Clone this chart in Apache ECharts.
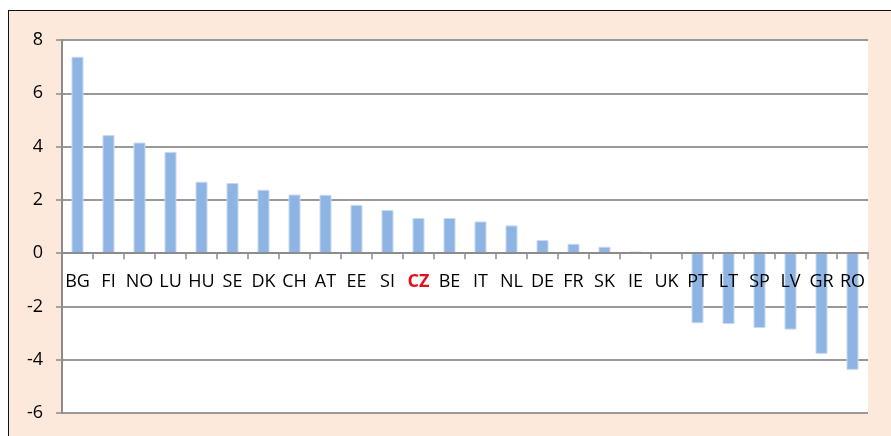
<!DOCTYPE html>
<html>
<head>
<meta charset="utf-8">
<script src="https://cdn.jsdelivr.net/npm/echarts@6/dist/echarts.min.js"></script>
<style>
  html, body { margin: 0; padding: 0; background: #fff; }
  .frame {
    position: absolute;
    left: 8px;
    top: 10px;
    width: 900px;
    height: 440px;
    background: #fce9db;
    border-left: 1px solid #111;
    border-top: 1px solid #111;
  }
  #bar { position: absolute; left: 0; top: 0; width: 891px; height: 436px; }
</style>
</head>
<body>
<div class="frame"></div>
<div id="bar"></div>
<script>
const categories = ['BG', 'FI', 'NO', 'LU', 'HU', 'SE', 'DK', 'CH', 'AT', 'EE', 'SI', 'CZ', 'BE',
  'IT', 'NL', 'DE', 'FR', 'SK', 'IE', 'UK', 'PT', 'LT', 'SP', 'LV', 'GR', 'RO'];
const values = [7.37, 4.43, 4.15, 3.8, 2.68, 2.63, 2.38, 2.2, 2.19, 1.81, 1.62, 1.32, 1.32,
  1.19, 1.04, 0.49, 0.35, 0.24, 0.06, 0.02, -2.63, -2.66, -2.81, -2.87, -3.78, -4.38];
const yTicks = [-6, -4, -2, 0, 2, 4, 6, 8];
const highlight = 'CZ';

const chart = echarts.init(document.getElementById('bar'));
const font = '"Open Sans", sans-serif';

const gridTop = 40;
const gridBottom = 23;
const gridHeight = 436 - gridTop - gridBottom;
const yMin = yTicks[0];
const yMax = yTicks[yTicks.length - 1];
// move the category axis up onto the zero line, labels included
const zeroOffset = -gridHeight * (0 - yMin) / (yMax - yMin);

const option = {
  animation: false,
  grid: {
    left: 62,
    right: 23,
    top: gridTop,
    bottom: gridBottom,
    show: true,
    backgroundColor: '#fff',
    borderWidth: 0,
  },
  xAxis: {
    type: 'category',
    data: categories,
    position: 'bottom',
    offset: zeroOffset,
    z: 5,
    axisLine: { onZero: false, lineStyle: { color: '#8c8c8c', width: 2 } },
    axisTick: { show: true, length: 6, lineStyle: { color: '#8c8c8c', width: 1.5 } },
    axisLabel: {
      interval: 0,
      margin: 20,
      fontFamily: font,
      fontSize: 18,
      color: '#000',
      formatter(v) {
        return v === highlight ? `{hl|${v}}` : v;
      },
      rich: {
        hl: { color: '#e0101e', fontWeight: 'bold', fontFamily: font, fontSize: 18 },
      },
    },
    splitLine: { show: false },
  },
  yAxis: {
    type: 'value',
    min: yMin,
    max: yMax,
    interval: 2,
    axisLine: { show: true, lineStyle: { color: '#8c8c8c', width: 2 } },
    axisTick: { show: true, length: 6, lineStyle: { color: '#8c8c8c', width: 1.5 } },
    axisLabel: {
      margin: 19,
      fontFamily: font,
      fontSize: 18,
      color: '#000',
    },
    splitLine: { show: true, lineStyle: { color: '#999', width: 2 } },
  },
  series: [{
    type: 'bar',
    data: values,
    barWidth: 12,
    itemStyle: {
      color: '#8db4e2',
      borderColor: '#c6d9f1',
      borderWidth: 1,
    },
  }],
};
chart.setOption(option);
</script>
</body>
</html>
